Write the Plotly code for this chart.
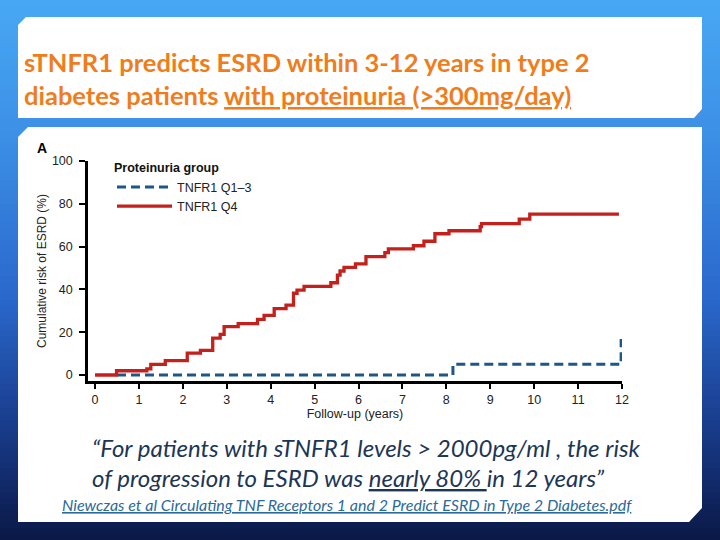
import plotly.graph_objects as go

# ---- data ----
q4_years = [0, 0.49, 1.18, 1.27, 1.6, 2.1, 2.4, 2.68, 2.85, 2.94, 3.26, 3.7, 3.85, 4.08,
            4.35, 4.52, 4.6, 4.76, 5.37, 5.52, 5.58, 5.67, 5.93, 6.17, 6.6, 6.68, 7.25,
            7.49, 7.74, 8.06, 8.77, 8.8, 9.66, 9.9, 11.93]
q4_risk = [0, 2, 2.9, 5, 6.7, 10.2, 11.5, 17.2, 19, 22.6, 24, 26, 27.9, 31, 32.7, 38.2,
           39.7, 41.4, 43.1, 46.7, 48.6, 50.3, 51.9, 55.3, 57.2, 58.9, 60.4, 62.5, 66,
           67.4, 69.3, 70.7, 72.8, 75.2, 75.2]
q13_years = [0.5, 8.15, 11.98]
q13_risk = [0, 5, 16.8]
x_ticks = list(range(0, 13))
y_ticks = [0, 20, 40, 60, 80, 100]
series_names = ["TNFR1 Q1\u20133", "TNFR1 Q4"]

W, H = 720, 540
PL, PR, PT, PB = 88, 622, 161, 381


def px(x):
    return (x - PL) / (PR - PL)


def py(y):
    return (PB - y) / (PB - PT)


fig = go.Figure()
fig.add_trace(go.Scatter(x=q13_years, y=q13_risk, mode="lines", line_shape="hv",
                         name=series_names[0],
                         line=dict(color="#1f5688", width=3, dash="9px,5px")))
fig.add_trace(go.Scatter(x=q4_years, y=q4_risk, mode="lines", line_shape="hv",
                         name=series_names[1],
                         line=dict(color="#c4201c", width=3.3)))

shapes = []
# background vertical gradient
stops = [(0.0, (72, 168, 244)), (0.25, (60, 144, 230)), (0.55, (42, 104, 204)),
         (0.8, (24, 58, 136)), (1.0, (10, 24, 70))]


def col(t):
    for (t0, c0), (t1, c1) in zip(stops[:-1], stops[1:]):
        if t0 <= t <= t1:
            f = (t - t0) / (t1 - t0)
            return "rgb(%d,%d,%d)" % tuple(round(a + (b - a) * f) for a, b in zip(c0, c1))
    return "rgb(%d,%d,%d)" % stops[-1][1]


step = 6
for y0 in range(0, H, step):
    shapes.append(dict(type="rect", xref="paper", yref="paper", layer="below",
                       x0=px(0), x1=px(W), y0=py(y0 + step + 0.5), y1=py(y0),
                       line=dict(width=0), fillcolor=col((y0 + step / 2) / H)))


def poly(pts):
    return "M " + " L ".join("%f,%f" % (px(a), py(b)) for a, b in pts) + " Z"


shapes.append(dict(type="path", xref="paper", yref="paper", layer="below",
                   path=poly([(26, 17), (702, 17), (702, 109), (694, 118), (18, 118), (18, 25)]),
                   fillcolor="white", line=dict(width=0)))
shapes.append(dict(type="path", xref="paper", yref="paper", layer="below",
                   path=poly([(28, 127), (702, 127), (702, 508), (689, 522), (18, 522), (18, 137)]),
                   fillcolor="white", line=dict(width=0)))

ann = []
title_font = dict(family="Lato", size=25.5, color="#ef7d1c")
ann.append(dict(text="<b>sTNFR1 predicts ESRD within 3-12 years in type 2</b>",
                x=px(22), y=py(62), xref="paper", yref="paper", xanchor="left",
                yanchor="middle", showarrow=False, font=title_font))
ann.append(dict(text="<b>diabetes patients <u>with proteinuria (>300mg/day)</u></b>",
                x=px(22), y=py(95), xref="paper", yref="paper", xanchor="left",
                yanchor="middle", showarrow=False, font=title_font))
ann.append(dict(text="<b>A</b>", x=px(35), y=py(148), xref="paper", yref="paper",
                xanchor="left", yanchor="middle", showarrow=False,
                font=dict(family="Liberation Sans", size=14, color="black")))
quote_font = dict(family="Lato", size=24, color="#1c3656")
ann.append(dict(text="<i>\u201cFor patients with sTNFR1 levels > 2000pg/ml , the risk</i>",
                x=px(90), y=py(447), xref="paper", yref="paper", xanchor="left",
                yanchor="middle", showarrow=False, font=quote_font))
ann.append(dict(text="<i>of progression to ESRD was <u>nearly 80% </u>in 12 years\u201d</i>",
                x=px(90), y=py(477), xref="paper", yref="paper", xanchor="left",
                yanchor="middle", showarrow=False, font=quote_font))
ann.append(dict(text="<i><u>Niewczas et al Circulating TNF Receptors 1 and 2 Predict ESRD in Type 2 Diabetes.pdf</u></i>",
                x=px(60), y=py(505), xref="paper", yref="paper", xanchor="left",
                yanchor="middle", showarrow=False,
                font=dict(family="Lato", size=16, color="#2b6a9a")))

axis_font = dict(family="Liberation Sans", size=12.5, color="#222")
fig.update_layout(
    width=W, height=H,
    margin=dict(l=PL, r=W - PR, t=PT, b=H - PB, pad=0),
    paper_bgcolor="rgb(10,24,70)", plot_bgcolor="rgba(0,0,0,0)",
    shapes=shapes, annotations=ann,
    showlegend=True,
    legend=dict(x=px(112), y=py(156), xanchor="left", yanchor="top",
                bgcolor="rgba(0,0,0,0)", traceorder="normal",
                title=dict(text="<b>Proteinuria group</b>",
                           font=dict(family="Liberation Sans", size=12.5, color="#111"),
                           side="top"),
                font=dict(family="Liberation Sans", size=12.5, color="#222"),
                itemwidth=55, tracegroupgap=0),
    xaxis=dict(range=[-0.16, 12], tickvals=x_ticks, ticktext=[str(v) for v in x_ticks],
               showgrid=False, zeroline=False, showline=True, linecolor="black",
               linewidth=2.5, ticks="outside", ticklen=5, tickwidth=2, tickcolor="black",
               tickfont=axis_font,
               title=dict(text="Follow-up (years)", font=axis_font, standoff=0)),
    yaxis=dict(range=[-2.8, 100], tickvals=y_ticks, ticktext=[str(v) for v in y_ticks],
               showgrid=False, zeroline=False, showline=True, linecolor="black",
               linewidth=2.5, ticks="outside", ticklen=6, tickwidth=2, tickcolor="black",
               tickfont=axis_font, ticklabelstandoff=4,
               title=dict(text="Cumulative risk of ESRD (%)",
                          font=dict(family="Liberation Sans", size=12, color="#222"),
                          standoff=3)),
)

fig.write_html("out.html", config={"displayModeBar": False},
               post_script="document.body.style.margin='0';document.body.style.padding='0';")
